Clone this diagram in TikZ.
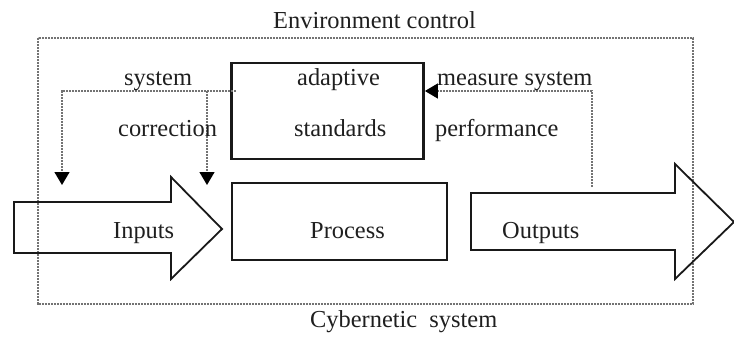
\documentclass[tikz,border=0pt]{standalone}
\usepackage{fontspec}
\setmainfont{Liberation Serif}
\usetikzlibrary{arrows.meta}
\begin{document}
\begin{tikzpicture}[x=1pt,y=-1pt,
  lbl/.style={anchor=base west,inner sep=0pt,text=black!88,font=\fontsize{24.4}{28}\selectfont},
  boxframe/.style={draw=black!90,line width=2.8pt,minimum width=#1},
  bigarrow/.style={draw=black!90,line width=1.8pt,line join=miter},
  fb/.style={draw=black!55,line width=1.3pt,dash pattern=on 0.9pt off 0.6pt},
  fbtip/.style={-{Triangle[length=13pt,width=15pt,black]}}]
\useasboundingbox (0,0) rectangle (734,345);

% system boundary
\draw[fb] (38,38) rectangle (693,304);

% inner boxes
\node[boxframe=192pt,minimum height=96pt,inner sep=0pt] (adapt) at (327.5,111) {};
\node[boxframe=215pt,minimum height=77pt,inner sep=0pt] (proc) at (339.5,221.5) {};

% input and output flows
\draw[bigarrow] (14,202) -- (171,202) -- (171,177) -- (222,229)
  coordinate (intip) -- (171,279) -- (171,253) -- (14,253) -- cycle;
\draw[bigarrow] (471,193) -- (675,193) -- (675,164) -- (734,222)
  coordinate (outtip) -- (675,279) -- (675,250) -- (471,250) -- cycle;

% feedback: system correction
\coordinate (corrA) at (62,185);
\coordinate (corrB) at (207,185);
\coordinate (split) at (207,91);
\draw[fb,fbtip] ([xshift=6pt]adapt.west |- split) -- (62,91) -- (corrA);
\draw[fb,fbtip] (split) -- (corrB);

% feedback: measure system performance
\coordinate (meas) at (592,187);
\draw[fb,fbtip] (meas) -- (592,91) -- (adapt.east |- 0,91);

% labels
\node[lbl] (tenv) at (273,29) {Environment control};
\node[lbl] (tcyb) at (310,327) {Cybernetic\ \ system};
\node[lbl] (tsys) at (124,85) {system};
\node[lbl] (tcor) at (118,136) {correction};
\node[lbl] (tada) at (297,85) {adaptive};
\node[lbl] (tsta) at (294,136) {standards};
\node[lbl] (tmea) at (437,85) {measure system};
\node[lbl] (tper) at (435,136) {performance};
\node[lbl] (tinp) at (113,238) {Inputs};
\node[lbl] (tpro) at (310,238) {Process};
\node[lbl] (tout) at (502,238) {Outputs};
\end{tikzpicture}
\end{document}
